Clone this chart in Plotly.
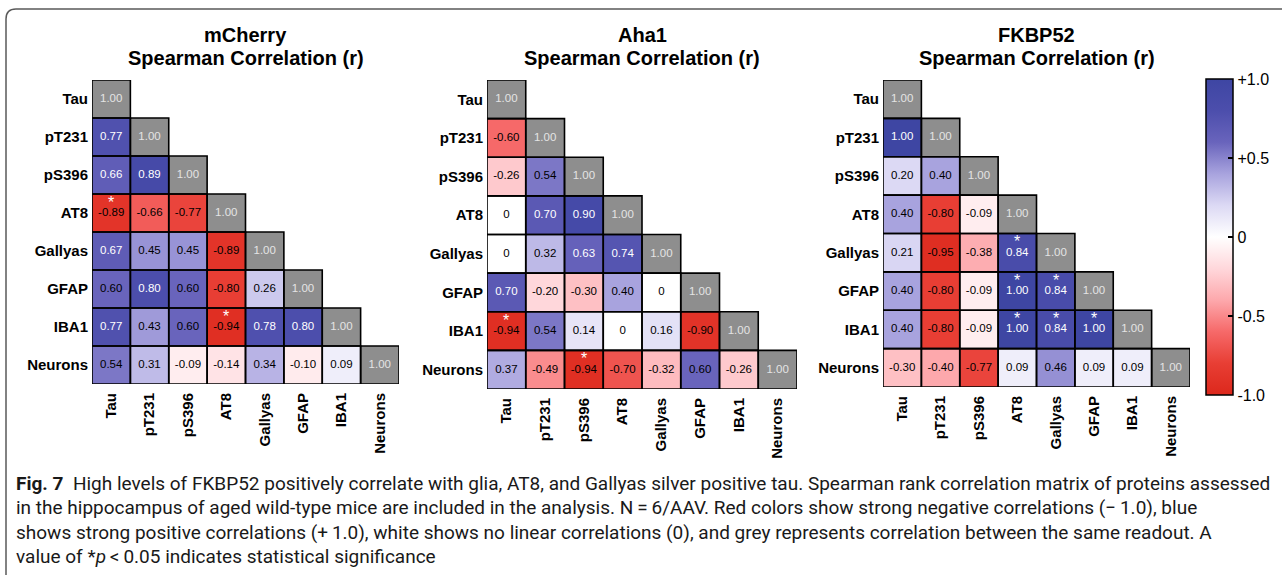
import plotly.graph_objects as go

# ---------------- data ----------------
labels = ["Tau", "pT231", "pS396", "AT8", "Gallyas", "GFAP", "IBA1", "Neurons"]
panel_names = ["mCherry", "Aha1", "FKBP52"]
subtitle = "Spearman Correlation (r)"

# lower-triangle values, row by row (row i holds columns 0..i-1)
mcherry_rows = [
    [],
    [0.77],
    [0.66, 0.89],
    [-0.89, -0.66, -0.77],
    [0.67, 0.45, 0.45, -0.89],
    [0.60, 0.80, 0.60, -0.80, 0.26],
    [0.77, 0.43, 0.60, -0.94, 0.78, 0.80],
    [0.54, 0.31, -0.09, -0.14, 0.34, -0.10, 0.09],
]
aha1_rows = [
    [],
    [-0.60],
    [-0.26, 0.54],
    [0, 0.70, 0.90],
    [0, 0.32, 0.63, 0.74],
    [0.70, -0.20, -0.30, 0.40, 0],
    [-0.94, 0.54, 0.14, 0, 0.16, -0.90],
    [0.37, -0.49, -0.94, -0.70, -0.32, 0.60, -0.26],
]
fkbp52_rows = [
    [],
    [1.00],
    [0.20, 0.40],
    [0.40, -0.80, -0.09],
    [0.21, -0.95, -0.38, 0.84],
    [0.40, -0.80, -0.09, 1.00, 0.84],
    [0.40, -0.80, -0.09, 1.00, 0.84, 1.00],
    [-0.30, -0.40, -0.77, 0.09, 0.46, 0.09, 0.09],
]
diag_value = 1.00

# significant cells (row label, column label), p < 0.05
mcherry_sig = [("AT8", "Tau"), ("IBA1", "AT8")]
aha1_sig = [("IBA1", "Tau"), ("Neurons", "pS396")]
fkbp52_sig = [("Gallyas", "AT8"), ("GFAP", "AT8"), ("GFAP", "Gallyas"),
              ("IBA1", "AT8"), ("IBA1", "Gallyas"), ("IBA1", "GFAP")]

cbar_tickvals = [-1.0, -0.5, 0, 0.5, 1.0]
cbar_ticktext = ["-1.0", "-0.5", "0", "+0.5", "+1.0"]

caption_lines = [
    "<b>Fig. 7</b>  High levels of FKBP52 positively correlate with glia, AT8, and Gallyas silver positive tau. Spearman rank correlation matrix of proteins assessed",
    "in the hippocampus of aged wild-type mice are included in the analysis. N\u2009=\u20096/AAV. Red colors show strong negative correlations (\u2212\u20091.0), blue",
    "shows strong positive correlations (+\u20091.0), white shows no linear correlations (0), and grey represents correlation between the same readout. A",
    "value of *<i>p</i>\u2009<\u20090.05 indicates statistical significance",
]

# ---------------- styling ----------------
W, H = 1282, 575
FONT = "Liberation Sans, Arial, sans-serif"
CAPFONT = "Roboto, Noto Sans, sans-serif"
colorscale = [
    [0.0, "rgb(220,40,28)"],
    [0.1, "rgb(232,62,52)"],
    [0.2, "rgb(246,105,105)"],
    [0.3, "rgb(253,168,172)"],
    [0.4, "rgb(255,215,219)"],
    [0.5, "rgb(255,255,255)"],
    [0.6, "rgb(220,217,244)"],
    [0.7, "rgb(168,163,222)"],
    [0.8, "rgb(105,100,188)"],
    [0.9, "rgb(76,78,172)"],
    [1.0, "rgb(62,70,163)"],
]
GRAY = "rgb(142,142,142)"
# panel pixel boxes: left, right, top, bottom
boxes = [(92, 399, 80, 384), (487, 797, 80, 389), (883, 1190, 80, 387)]

panels = [(mcherry_rows, mcherry_sig), (aha1_rows, aha1_sig), (fkbp52_rows, fkbp52_sig)]
n = len(labels)
idx = list(range(n))

fig = go.Figure()
shapes = []
annotations = []

for p, ((rows, sig), (l, r, t, b)) in enumerate(zip(panels, boxes)):
    ax = "" if p == 0 else str(p + 1)
    xr, yr = "x" + ax, "y" + ax
    z = [[(rows[i][j] if j < i else None) for j in range(n)] for i in range(n)]
    zd = [[(diag_value if j == i else None) for j in range(n)] for i in range(n)]
    fig.add_trace(go.Heatmap(z=z, x=idx, y=idx, coloraxis="coloraxis",
                             xaxis=xr, yaxis=yr, hoverongaps=False))
    fig.add_trace(go.Heatmap(z=zd, x=idx, y=idx, colorscale=[[0, GRAY], [1, GRAY]],
                             showscale=False, xaxis=xr, yaxis=yr, hoverongaps=False))
    # cell texts
    tx, ty, tt, tc = [], [], [], []
    for i in range(n):
        for j in range(i + 1):
            v = diag_value if j == i else rows[i][j]
            tx.append(j)
            ty.append(i)
            tt.append("0" if v == 0 else f"{v:.2f}")
            if j == i:
                tc.append("rgb(228,228,228)")
            elif v >= 0.62:
                tc.append("white")
            else:
                tc.append("black")
            shapes.append(dict(type="rect", xref=xr, yref=yr,
                               x0=j - 0.5, x1=j + 0.5, y0=i - 0.5, y1=i + 0.5,
                               line=dict(color="black", width=1.6), layer="above"))
    fig.add_trace(go.Scatter(x=tx, y=ty, text=tt, mode="text", xaxis=xr, yaxis=yr,
                             textfont=dict(family=FONT, size=11.5, color=tc),
                             hoverinfo="skip", showlegend=False))
    for (rl, cl) in sig:
        annotations.append(dict(x=labels.index(cl), y=labels.index(rl), xref=xr, yref=yr,
                                text="*", showarrow=False, yshift=11,
                                font=dict(family=FONT, size=16, color="white")))
    dom_x = [l / W, r / W]
    dom_y = [1 - b / H, 1 - t / H]
    tickfont = dict(family=FONT, size=15, color="black", weight="bold")
    fig.update_layout(**{
        "xaxis" + ax: dict(domain=dom_x, range=[-0.5, n - 0.5], tickvals=idx, ticktext=labels,
                           tickangle=-90, showgrid=False, zeroline=False, showline=False,
                           ticks="", ticklabelstandoff=5, anchor=yr, tickfont=tickfont),
        "yaxis" + ax: dict(domain=dom_y, range=[n - 0.5, -0.5], tickvals=idx, ticktext=labels,
                           showgrid=False, zeroline=False, showline=False, ticks="",
                           ticklabelstandoff=3, anchor=xr, tickfont=tickfont),
    })
    for text, ypx in ((panel_names[p], 35), (subtitle, 58)):
        annotations.append(dict(x=(l + r) / 2 / W, y=1 - ypx / H, xref="paper", yref="paper",
                                text=f"<b>{text}</b>", showarrow=False,
                                xanchor="center", yanchor="middle",
                                font=dict(family=FONT, size=20, color="black")))

# colorbar
cb_top, cb_len, cb_left, cb_th = 79, 316, 1206, 27
fig.update_layout(coloraxis=dict(
    colorscale=colorscale, cmin=-1, cmax=1,
    colorbar=dict(x=cb_left / W, xanchor="left", y=1 - cb_top / H, yanchor="top",
                  len=cb_len, lenmode="pixels", thickness=cb_th, thicknessmode="pixels",
                  outlinecolor="black", outlinewidth=1.5, xpad=0, ypad=0,
                  tickvals=cbar_tickvals, ticktext=cbar_ticktext,
                  ticks="inside", ticklen=5, tickwidth=1.5, tickcolor="black",
                  tickfont=dict(family=FONT, size=16, color="black"))))
# left-side tick marks on the colorbar
for v in cbar_tickvals[1:-1]:
    yy = 1 - (cb_top + (1 - v) / 2 * cb_len) / H
    shapes.append(dict(type="line", xref="paper", yref="paper",
                       x0=cb_left / W, x1=(cb_left + 5) / W, y0=yy, y1=yy,
                       line=dict(color="black", width=1.5)))

# caption
for k, line in enumerate(caption_lines):
    annotations.append(dict(x=14 / W, y=1 - (483 + 24.5 * k) / H, xref="paper", yref="paper",
                            text=line, showarrow=False, xanchor="left", yanchor="middle",
                            font=dict(family=CAPFONT, size=19, color="rgb(25,25,25)")))

# rounded frame
rad = 10
frame = (f"M {6 / W} {1 - 580 / H} L {6 / W} {1 - (9 + rad) / H} "
         f"Q {6 / W} {1 - 9 / H} {(6 + rad) / W} {1 - 9 / H} L {1.01} {1 - 9 / H}")
shapes.append(dict(type="path", xref="paper", yref="paper", path=frame,
                   line=dict(color="rgb(90,90,90)", width=1.5)))

fig.update_layout(width=W, height=H, margin=dict(l=0, r=0, t=0, b=0),
                  paper_bgcolor="white", plot_bgcolor="white", showlegend=False,
                  shapes=shapes, annotations=annotations)

fig.write_html("out.html", config={"displayModeBar": False},
               post_script="document.body.style.margin='0';document.body.style.overflow='hidden';")
